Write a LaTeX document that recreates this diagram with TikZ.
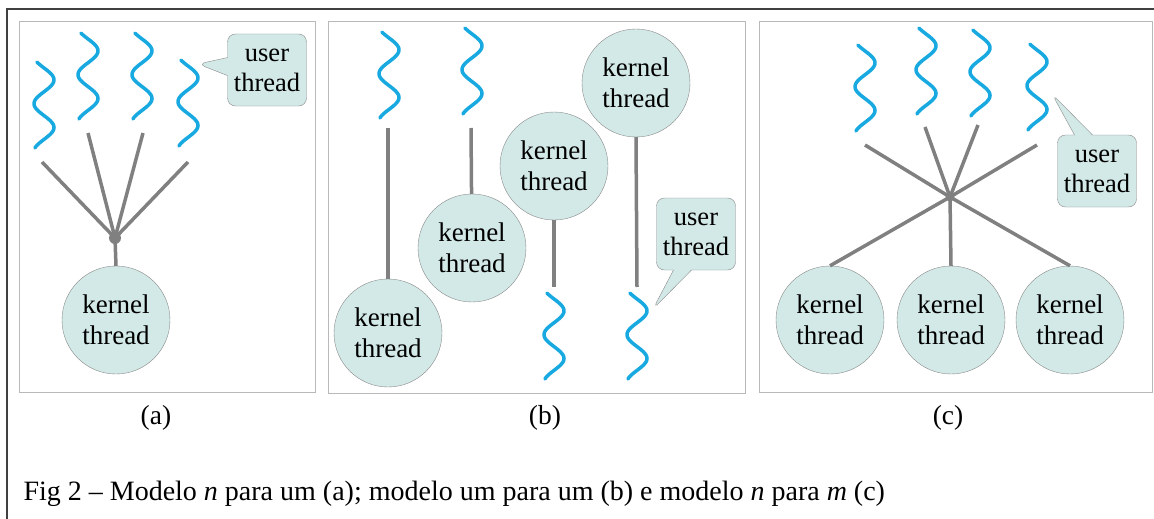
\documentclass[tikz,border=0pt]{standalone}
\usepackage{fontspec}
\setmainfont{Liberation Serif}
\usetikzlibrary{shapes.callouts}

\definecolor{kfill}{HTML}{D2E9E7}
\definecolor{wavecol}{HTML}{19A9E1}
\definecolor{linkgray}{HTML}{808080}
\definecolor{edgegray}{HTML}{8A8A8A}

\tikzset{
  kernel/.style={circle, draw=edgegray, fill=kfill, minimum size=108pt, inner sep=0pt,
    align=center, font=\fontsize{27}{31}\selectfont},
  tagbox/.style={rectangle callout, rounded corners=8pt, draw=edgegray, fill=kfill,
    minimum width=79pt, minimum height=72pt, inner sep=1pt, callout pointer width=18pt,
    align=center, font=\fontsize{26.5}{30}\selectfont},
  link/.style={draw=linkgray, line width=3.5pt},
  wave/.style={draw=wavecol, line width=3.5pt, line cap=round},
  panel/.style={draw=gray!55, line width=1pt},
  caption/.style={font=\fontsize{27.5}{32}\selectfont}
}

% one user thread, hanging down from (#1,#2)
\newcommand{\uthread}[2]{%
  \draw[wave] plot[domain=-45:605, samples=80, smooth] ({#1+10*sin(\x)}, {#2+(\x+45)/650*86});}

\begin{document}
\begin{tikzpicture}[x=1pt, y=-1pt]
  \useasboundingbox (0,0) rectangle (1154,519);

  % Frame
  \draw[line width=1.2pt, black!75] (7,519) -- (7,9) -- (1154,9);

  % Panels
  \draw[panel] (19,22) rectangle (315,392);
  \draw[panel] (328,22) rectangle (745,393);
  \draw[panel] (759,22) rectangle (1152,392);

  % (a) many to one
  \uthread{44}{62}
  \uthread{88}{33}
  \uthread{142}{33}
  \uthread{188}{60}
  \coordinate (la1) at (42,162);
  \coordinate (la2) at (88,133);
  \coordinate (la3) at (143,133);
  \coordinate (la4) at (188,162);
  \coordinate (ja) at (115,238);
  \node[kernel] (kta) at (116,320) {kernel\\thread};
  \foreach \i in {1,...,4} \draw[link] (la\i) -- (ja);
  \draw[link] (ja) -- (kta.north);
  \fill[linkgray] (ja) circle (6);
  \node[tagbox, callout absolute pointer={(198,64)}] (uta) at (267,70) {user\\thread};

  % (b) one to one
  \uthread{389}{32}
  \uthread{472}{28}
  \uthread{554}{293}
  \uthread{637}{293}
  \node[kernel] (ktb1) at (388,333) {kernel\\thread};
  \node[kernel] (ktb2) at (472,248) {kernel\\thread};
  \node[kernel] (ktb3) at (554,166) {kernel\\thread};
  \node[kernel] (ktb4) at (636,83) {kernel\\thread};
  \coordinate (lb1) at (388,128);
  \coordinate (lb2) at (471,128);
  \coordinate (lb3) at (554,287);
  \coordinate (lb4) at (637,287);
  \draw[link] (lb1) -- (ktb1);
  \draw[link] (lb2) -- (ktb2);
  \draw[link] (ktb3) -- (lb3);
  \draw[link] (ktb4.south) -- (lb4);
  \node[tagbox, callout absolute pointer={(653,309)}] (utb) at (696,234) {user\\thread};

  % (c) many to many
  \uthread{865}{45}
  \uthread{926}{28}
  \uthread{980}{30}
  \uthread{1037}{44}
  \coordinate (lc1) at (865,145);
  \coordinate (lc2) at (925,127);
  \coordinate (lc3) at (978,125);
  \coordinate (lc4) at (1037,145);
  \coordinate (jc) at (950,197);
  \node[kernel] (ktc1) at (830,320) {kernel\\thread};
  \node[kernel] (ktc2) at (951,320) {kernel\\thread};
  \node[kernel] (ktc3) at (1070,320) {kernel\\thread};
  \foreach \i in {1,...,4} \draw[link] (lc\i) -- (jc);
  \foreach \i in {1,...,3} \draw[link] (jc) -- (ktc\i.north);
  \fill[linkgray] (jc) circle (4.5);
  \node[tagbox, callout absolute pointer={(1052,94)}] (utc) at (1097,171) {user\\thread};

  % Captions
  \node[caption] (capa) at (156,418) {(a)};
  \node[caption] (capb) at (545,418) {(b)};
  \node[caption] (capc) at (948,418) {(c)};
  \node[caption, anchor=base west, font=\fontsize{28}{32}\selectfont] (fig) at (20,500)
    {Fig 2 – Modelo \textit{n} para um (a); modelo um para um (b) e modelo \textit{n} para \textit{m} (c)};
\end{tikzpicture}
\end{document}
